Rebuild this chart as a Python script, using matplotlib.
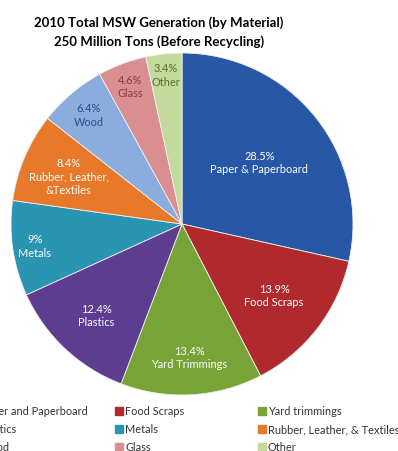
import matplotlib
matplotlib.use("Agg")
import matplotlib.pyplot as plt
import numpy as np
from matplotlib.patches import Rectangle

# data, clockwise from 12 o'clock
labels = ["Paper & Paperboard", "Food Scraps", "Yard Trimmings", "Plastics", "Metals",
          "Rubber, Leather,\n&Textiles", "Wood", "Glass", "Other"]
shares = [28.5, 13.9, 13.4, 12.4, 9.0, 8.4, 6.4, 4.6, 3.4]
share_text = ["28.5%", "13.9%", "13.4%", "12.4%", "9%", "8.4%", "6.4%", "4.6%", "3.4%"]
legend_names = ["Paper and Paperboard", "Food Scraps", "Yard trimmings",
                "Plastics", "Metals", "Rubber, Leather, & Textiles",
                "Wood", "Glass", "Other"]

COLORS = ["#2757a5", "#b02a2d", "#78a337", "#5c3d90", "#2a95b0",
          "#e8792a", "#8aaddd", "#d98e92", "#c4da9d"]
TEXT_COLORS = ["white"] * 6 + ["#2e4c8a", "#8a3c3c", "#52702c"]
LABEL_DIST = [0.58, 0.68, 0.78, 0.73, 0.87, 0.72, 0.84, 0.86, 0.88]

W, H = 398, 452
FONT = "Lato"


def main() -> None:
    fig = plt.figure(figsize=(W / 100, H / 100), dpi=100, facecolor="white")

    cx, cy, r = 182, 225, 171
    ax = fig.add_axes([(cx - r) / W, (H - cy - r) / H, 2 * r / W, 2 * r / H])
    wedges, _ = ax.pie(
        shares, colors=COLORS, startangle=90, counterclock=False,
        wedgeprops=dict(edgecolor="#f0f0f0", linewidth=0.6),
    )
    for w, name, pct, d, tc in zip(wedges, labels, share_text, LABEL_DIST, TEXT_COLORS):
        ang = np.deg2rad((w.theta1 + w.theta2) / 2)
        ax.text(d * np.cos(ang), d * np.sin(ang), f"{pct}\n{name}",
                ha="center", va="center", color=tc, fontsize=7.9,
                family=FONT, linespacing=1.25)
    ax.set_xlim(-1.0, 1.0)
    ax.set_ylim(-1.0, 1.0)
    ax.set_aspect("equal")
    ax.axis("off")

    fig.text(159 / W, 1 - 23 / H, "2010 Total MSW Generation (by Material)",
             ha="center", va="center", fontsize=9.5, fontweight="bold", family=FONT)
    fig.text(159 / W, 1 - 42 / H, "250 Million Tons (Before Recycling)",
             ha="center", va="center", fontsize=9.5, fontweight="bold", family=FONT)

    # legend, filled row by row; the left column runs off the image as in the source
    col_x = [-30, 115, 258]
    row_y = [412, 430, 448]
    for k, name in enumerate(legend_names):
        x = col_x[k % 3]
        y = row_y[k // 3]
        fig.patches.append(Rectangle((x / W, 1 - (y + 4) / H), 8 / W, 8 / H,
                                     transform=fig.transFigure, color=COLORS[k]))
        fig.text((x + 10) / W, 1 - y / H, name, ha="left", va="center",
                 fontsize=7.9, family=FONT, color="#333333")

    fig.savefig("out.png", dpi=100, facecolor="white")


if __name__ == "__main__":
    main()
